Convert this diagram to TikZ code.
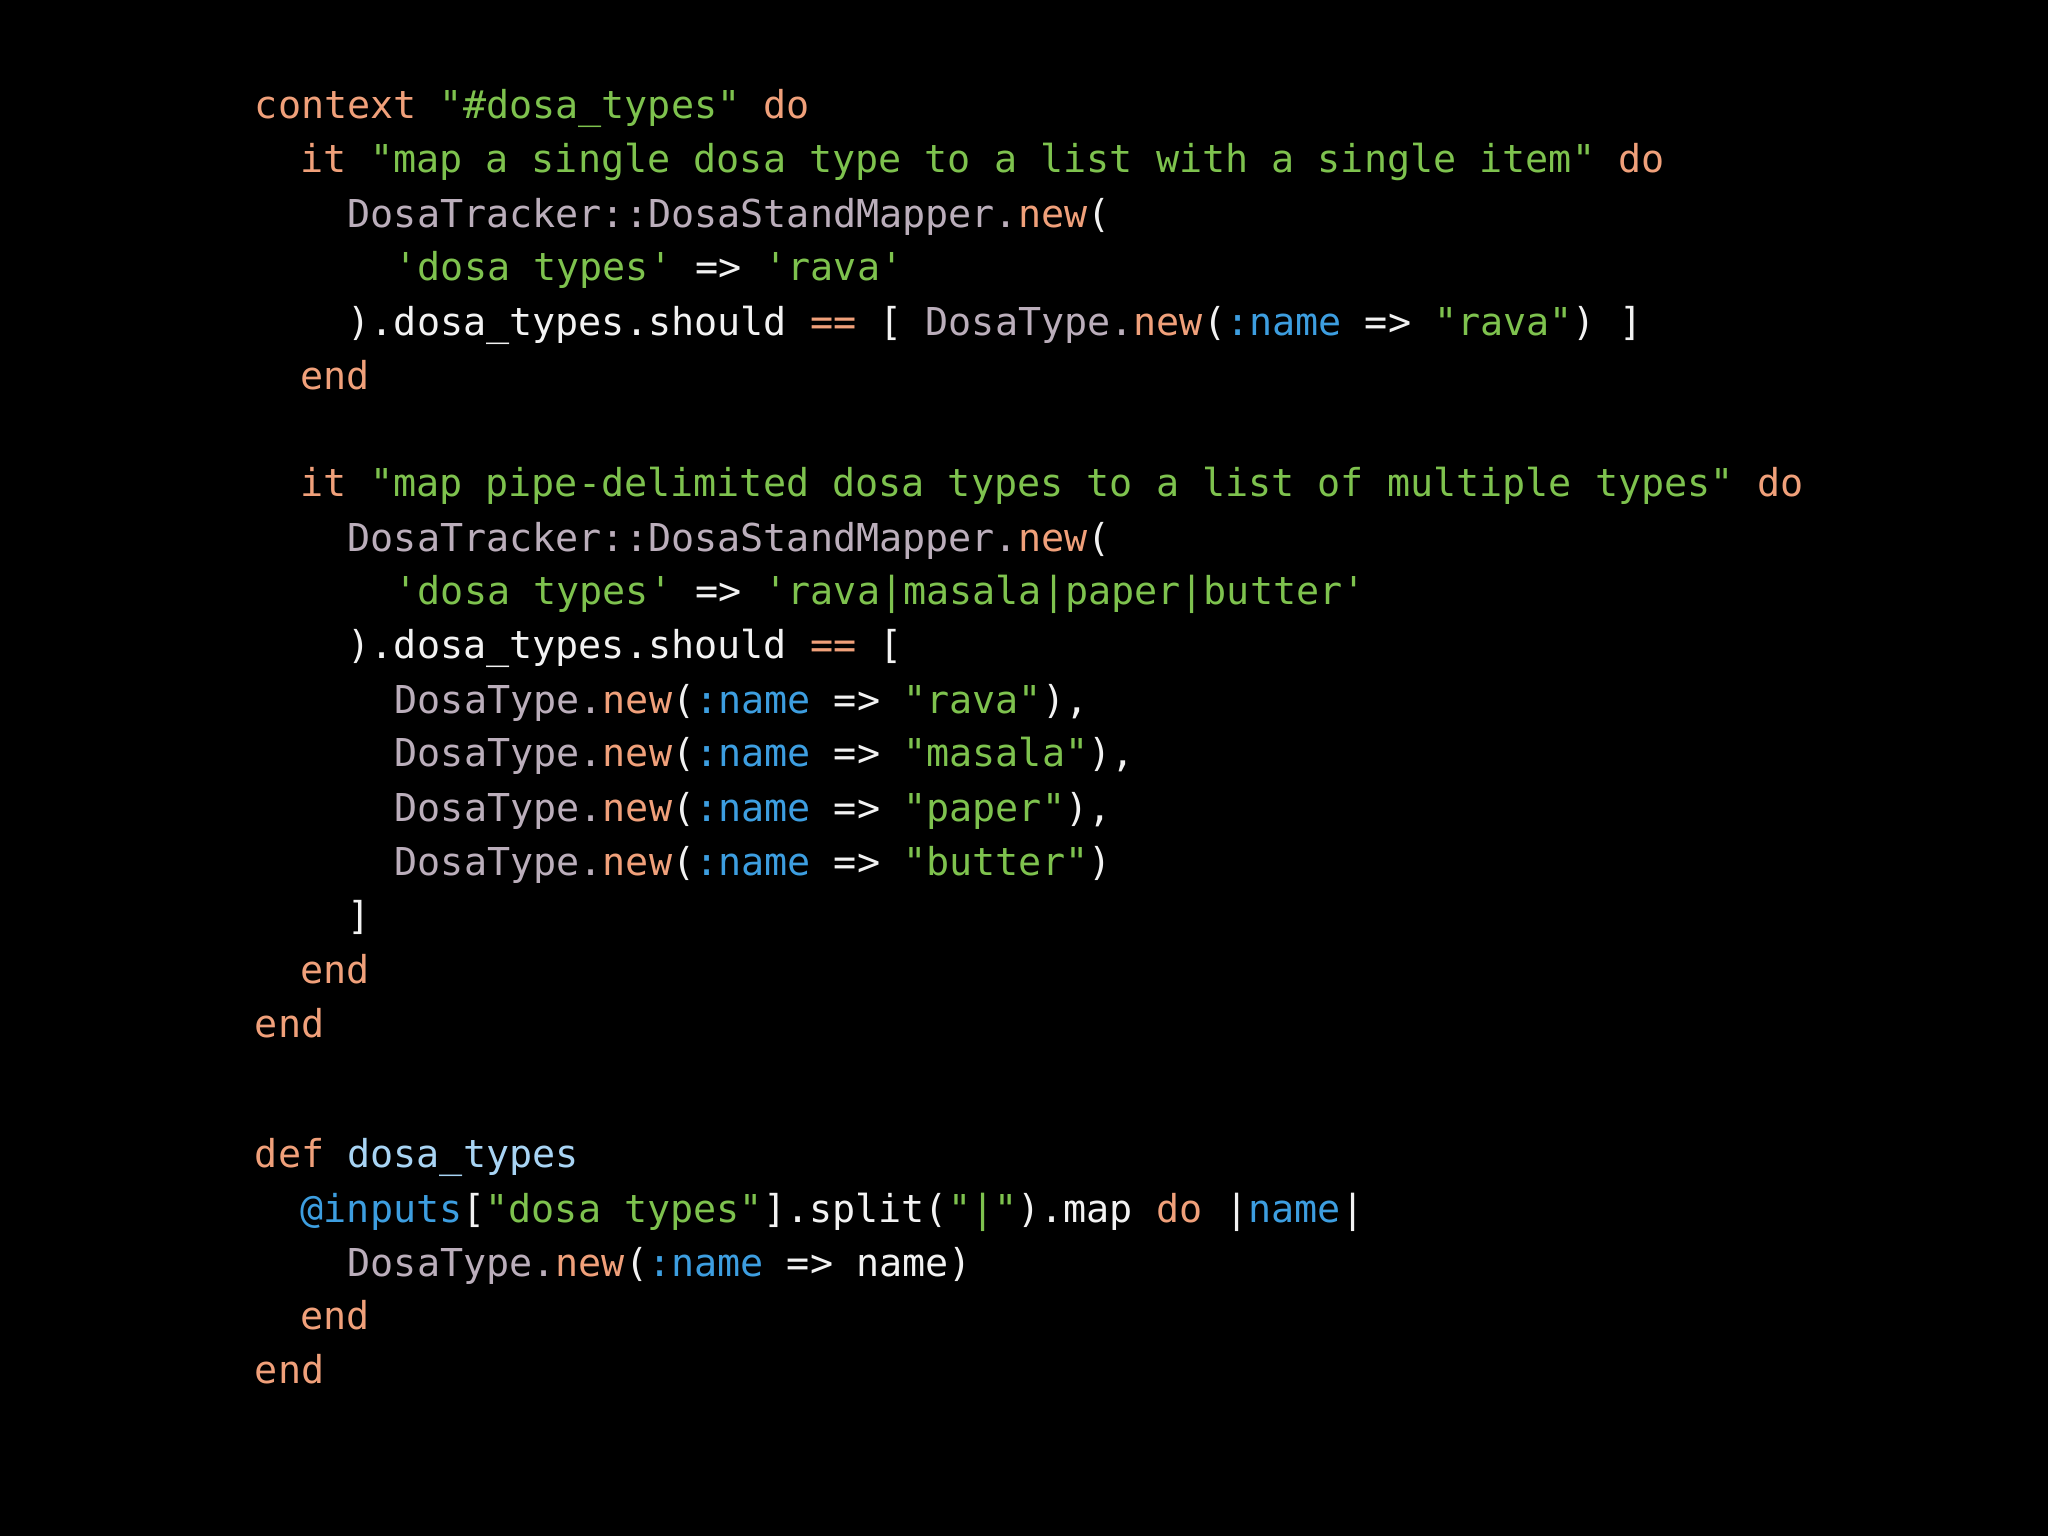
\documentclass[tikz,border=0pt]{standalone}
\usepackage{fontspec}
\setmonofont{DejaVu Sans Mono}[WordSpace={1,0,0}]
\definecolor{ckw}{HTML}{F0A07A}
\definecolor{cst}{HTML}{7EC24E}
\definecolor{ccl}{HTML}{BBAEBB}
\definecolor{csy}{HTML}{3D9EE0}
\definecolor{cfn}{HTML}{A8D4F4}
\definecolor{cpl}{HTML}{F2F2F2}
\newcommand{\kw}[1]{\textcolor{ckw}{#1}}
\newcommand{\st}[1]{\textcolor{cst}{#1}}
\newcommand{\cl}[1]{\textcolor{ccl}{#1}}
\newcommand{\sy}[1]{\textcolor{csy}{#1}}
\newcommand{\fn}[1]{\textcolor{cfn}{#1}}
\begin{document}
\begin{tikzpicture}[x=1pt,y=1pt,
  codeline/.style={anchor=base west,inner sep=0pt,text=cpl,font=\ttfamily\fontsize{29.4}{30}\selectfont}]
\fill[black] (0,0) rectangle (1568,-1176);
\useasboundingbox (0,0) rectangle (1568,-1176);
\node[codeline] (l0) at (195,-91) {\kw{context} \st{"\#dosa\_types"} \kw{do}};
\node[codeline] (l1) at (230,-132) {\kw{it} \st{"map a single dosa type to a list with a single item"} \kw{do}};
\node[codeline] (l2) at (266,-174) {\cl{DosaTracker::DosaStandMapper.}\kw{new}(};
\node[codeline] (l3) at (302,-215) {\st{'dosa types'} => \st{'rava'}};
\node[codeline] (l4) at (266,-257) {).dosa\_types.should \kw{==} [ \cl{DosaType.}\kw{new}(\sy{:name} => \st{"rava"}) ]};
\node[codeline] (l5) at (230,-298) {\kw{end}};
\node[codeline] (l7) at (230,-380) {\kw{it} \st{"map pipe-delimited dosa types to a list of multiple types"} \kw{do}};
\node[codeline] (l8) at (266,-422) {\cl{DosaTracker::DosaStandMapper.}\kw{new}(};
\node[codeline] (l9) at (302,-463) {\st{'dosa types'} => \st{'rava|masala|paper|butter'}};
\node[codeline] (l10) at (266,-504) {).dosa\_types.should \kw{==} [};
\node[codeline] (l11) at (302,-546) {\cl{DosaType.}\kw{new}(\sy{:name} => \st{"rava"}),};
\node[codeline] (l12) at (302,-587) {\cl{DosaType.}\kw{new}(\sy{:name} => \st{"masala"}),};
\node[codeline] (l13) at (302,-629) {\cl{DosaType.}\kw{new}(\sy{:name} => \st{"paper"}),};
\node[codeline] (l14) at (302,-670) {\cl{DosaType.}\kw{new}(\sy{:name} => \st{"butter"})};
\node[codeline] (l15) at (266,-712) {]};
\node[codeline] (l16) at (230,-753) {\kw{end}};
\node[codeline] (l17) at (195,-794) {\kw{end}};
\node[codeline] (d0) at (195,-894) {\kw{def} \fn{dosa\_types}};
\node[codeline] (d1) at (230,-936) {\sy{@inputs}[\st{"dosa types"}].split(\st{"|"}).map \kw{do} |\sy{name}|};
\node[codeline] (d2) at (266,-977) {\cl{DosaType.}\kw{new}(\sy{:name} => name)};
\node[codeline] (d3) at (230,-1018) {\kw{end}};
\node[codeline] (d4) at (195,-1059) {\kw{end}};
\end{tikzpicture}
\end{document}
